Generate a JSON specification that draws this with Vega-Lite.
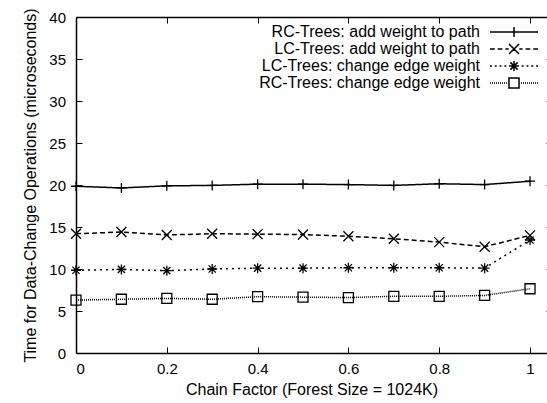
{
  "$schema": "https://vega.github.io/schema/vega-lite/v6.json",
  "width": 471,
  "height": 336,
  "autosize": {"type": "none"},
  "padding": {"left": 76, "top": 17, "right": 0, "bottom": 50},
  "background": "white",
  "config": {
    "view": {"stroke": null},
    "font": "Liberation Sans",
    "legend": {"rowPadding": -3.5},
    "axis": {
      "grid": false,
      "domain": true,
      "domainColor": "black",
      "domainWidth": 1.5,
      "tickColor": "black",
      "tickSize": -6,
      "tickWidth": 1,
      "labelColor": "black",
      "titleColor": "black",
      "labelFont": "Liberation Sans",
      "titleFont": "Liberation Sans",
      "labelFontSize": 15,
      "titleFontSize": 16,
      "titleFontWeight": "normal"
    }
  },
  "data": {
    "values": [
      {"x": 0.0, "series": "RC-Trees: add weight to path", "y": 19.85},
      {"x": 0.1, "series": "RC-Trees: add weight to path", "y": 19.65},
      {"x": 0.2, "series": "RC-Trees: add weight to path", "y": 19.9},
      {"x": 0.3, "series": "RC-Trees: add weight to path", "y": 19.95},
      {"x": 0.4, "series": "RC-Trees: add weight to path", "y": 20.1},
      {"x": 0.5, "series": "RC-Trees: add weight to path", "y": 20.1},
      {"x": 0.6, "series": "RC-Trees: add weight to path", "y": 20.05},
      {"x": 0.7, "series": "RC-Trees: add weight to path", "y": 19.95},
      {"x": 0.8, "series": "RC-Trees: add weight to path", "y": 20.15},
      {"x": 0.9, "series": "RC-Trees: add weight to path", "y": 20.05},
      {"x": 1.0, "series": "RC-Trees: add weight to path", "y": 20.45},
      {"x": 0.0, "series": "LC-Trees: add weight to path", "y": 14.2},
      {"x": 0.1, "series": "LC-Trees: add weight to path", "y": 14.4},
      {"x": 0.2, "series": "LC-Trees: add weight to path", "y": 14.05},
      {"x": 0.3, "series": "LC-Trees: add weight to path", "y": 14.2},
      {"x": 0.4, "series": "LC-Trees: add weight to path", "y": 14.15},
      {"x": 0.5, "series": "LC-Trees: add weight to path", "y": 14.1},
      {"x": 0.6, "series": "LC-Trees: add weight to path", "y": 13.9},
      {"x": 0.7, "series": "LC-Trees: add weight to path", "y": 13.6},
      {"x": 0.8, "series": "LC-Trees: add weight to path", "y": 13.2},
      {"x": 0.9, "series": "LC-Trees: add weight to path", "y": 12.65},
      {"x": 1.0, "series": "LC-Trees: add weight to path", "y": 14.0},
      {"x": 0.0, "series": "LC-Trees: change edge weight", "y": 9.85},
      {"x": 0.1, "series": "LC-Trees: change edge weight", "y": 9.95},
      {"x": 0.2, "series": "LC-Trees: change edge weight", "y": 9.8},
      {"x": 0.3, "series": "LC-Trees: change edge weight", "y": 10.0},
      {"x": 0.4, "series": "LC-Trees: change edge weight", "y": 10.1},
      {"x": 0.5, "series": "LC-Trees: change edge weight", "y": 10.1},
      {"x": 0.6, "series": "LC-Trees: change edge weight", "y": 10.15},
      {"x": 0.7, "series": "LC-Trees: change edge weight", "y": 10.15},
      {"x": 0.8, "series": "LC-Trees: change edge weight", "y": 10.15},
      {"x": 0.9, "series": "LC-Trees: change edge weight", "y": 10.1},
      {"x": 1.0, "series": "LC-Trees: change edge weight", "y": 13.45},
      {"x": 0.0, "series": "RC-Trees: change edge weight", "y": 6.3},
      {"x": 0.1, "series": "RC-Trees: change edge weight", "y": 6.4},
      {"x": 0.2, "series": "RC-Trees: change edge weight", "y": 6.5},
      {"x": 0.3, "series": "RC-Trees: change edge weight", "y": 6.4},
      {"x": 0.4, "series": "RC-Trees: change edge weight", "y": 6.7},
      {"x": 0.5, "series": "RC-Trees: change edge weight", "y": 6.65},
      {"x": 0.6, "series": "RC-Trees: change edge weight", "y": 6.6},
      {"x": 0.7, "series": "RC-Trees: change edge weight", "y": 6.75},
      {"x": 0.8, "series": "RC-Trees: change edge weight", "y": 6.75},
      {"x": 0.9, "series": "RC-Trees: change edge weight", "y": 6.85},
      {"x": 1.0, "series": "RC-Trees: change edge weight", "y": 7.65}
    ]
  },
  "layer": [
    {
      "mark": {"type": "line", "color": "black"},
      "encoding": {
        "x": {
          "field": "x", "type": "quantitative",
          "scale": {"domain": [0, 1.0374], "nice": false, "zero": false},
          "axis": {
            "orient": "bottom",
            "values": [0, 0.2, 0.4, 0.6, 0.8, 1],
            "format": ".1~f",
            "labelPadding": 14.5,
            "title": "Chain Factor (Forest Size = 1024K)",
            "titlePadding": 5
          }
        },
        "y": {
          "field": "y", "type": "quantitative",
          "scale": {"domain": [0, 40], "nice": false},
          "axis": {
            "orient": "left",
            "values": [0, 5, 10, 15, 20, 25, 30, 35, 40],
            "labelPadding": 16.5,
            "title": "Time for Data-Change Operations (microseconds)",
            "titlePadding": 10
          }
        },
        "strokeDash": {
          "field": "series", "type": "nominal",
          "scale": {
            "domain": ["LC-Trees: add weight to path", "LC-Trees: change edge weight", "RC-Trees: add weight to path", "RC-Trees: change edge weight"],
            "range": [[5, 3], [2, 4], [1, 0], [1, 1]]
          },
          "legend": null
        },
        "strokeWidth": {
          "field": "series", "type": "nominal",
          "scale": {
            "domain": ["LC-Trees: add weight to path", "LC-Trees: change edge weight", "RC-Trees: add weight to path", "RC-Trees: change edge weight"],
            "range": [1.5, 1.5, 1.5, 1]
          },
          "legend": null
        }
      }
    },
    {
      "mark": {"type": "point", "filled": false, "color": "black", "strokeWidth": 1.3, "opacity": 1, "size": 100},
      "encoding": {
        "x": {
          "field": "x", "type": "quantitative",
          "scale": {"domain": [0, 1.0374], "nice": false, "zero": false},
          "axis": {"orient": "top", "values": [0, 0.2, 0.4, 0.6, 0.8, 1], "labels": false, "title": null}
        },
        "y": {
          "field": "y", "type": "quantitative",
          "scale": {"domain": [0, 40], "nice": false},
          "axis": {"orient": "right", "values": [0, 5, 10, 15, 20, 25, 30, 35, 40], "labels": false, "title": null, "offset": 5}
        },
        "shape": {
          "field": "series", "type": "nominal",
          "scale": {
            "domain": ["RC-Trees: add weight to path", "LC-Trees: add weight to path", "LC-Trees: change edge weight", "RC-Trees: change edge weight"],
            "range": [
              "M-1,0H1M0,-1V1",
              "M-1,-1L1,1M-1,1L1,-1",
              "M-1,0H1M0,-1V1M-0.72,-0.72L0.72,0.72M-0.72,0.72L0.72,-0.72",
              "square"
            ]
          },
          "legend": null
        }
      }
    },
    {
      "mark": {"type": "point", "filled": false, "color": "black", "opacity": 0},
      "encoding": {
        "x": {"field": "x", "type": "quantitative", "scale": {"domain": [0, 1.0374], "nice": false, "zero": false}, "axis": null},
        "y": {"field": "y", "type": "quantitative", "scale": {"domain": [0, 40], "nice": false}, "axis": null},
        "shape": {
          "field": "series", "type": "nominal",
          "scale": {
            "domain": ["RC-Trees: add weight to path", "LC-Trees: add weight to path", "LC-Trees: change edge weight", "RC-Trees: change edge weight"],
            "range": [
              "M-4,0H4M0,-0.84V0.84",
              "M-4,0H-3.2M-2.72,0H-1.92M-1.44,0H-0.88M0.88,0H1.44M1.92,0H2.72M3.2,0H4M-0.84,-0.84L0.84,0.84M-0.84,0.84L0.84,-0.84",
              "M-4,0H-3.68M-3.2,0H-2.88M-2.4,0H-2.08M-1.6,0H-1.28M1.28,0H1.6M2.08,0H2.4M2.88,0H3.2M3.68,0H4M-0.84,0H0.84M0,-0.84V0.84M-0.6,-0.6L0.6,0.6M-0.6,0.6L0.6,-0.6",
              "M-4,0H-3.832M-3.668,0H-3.5M-3.332,0H-3.168M-3,0H-2.832M-2.668,0H-2.5M-2.332,0H-2.168M-2,0H-1.832M-1.668,0H-1.5M-1.332,0H-1.168M1.168,0H1.332M1.5,0H1.668M1.832,0H2M2.168,0H2.332M2.5,0H2.668M2.832,0H3M3.168,0H3.332M3.5,0H3.668M3.832,0H4M-0.84,-0.84H0.84V0.84H-0.84Z"
            ]
          },
          "legend": {
            "orient": "none",
            "legendX": 430,
            "legendY": 7,
            "title": null,
            "padding": 0,
            "rowPadding": -3.5,
            "symbolSize": 144,
            "symbolOpacity": 1,
            "symbolStrokeWidth": 1.5,
            "symbolStrokeColor": "black",
            "symbolFillColor": "transparent",
            "labelAlign": "right",
            "labelOffset": -42,
            "labelFont": "Liberation Sans",
            "labelFontSize": 16,
            "labelColor": "black",
            "labelLimit": 400
          }
        }
      }
    }
  ],
  "resolve": {"axis": {"x": "independent", "y": "independent"}, "scale": {"shape": "independent"}}
}
